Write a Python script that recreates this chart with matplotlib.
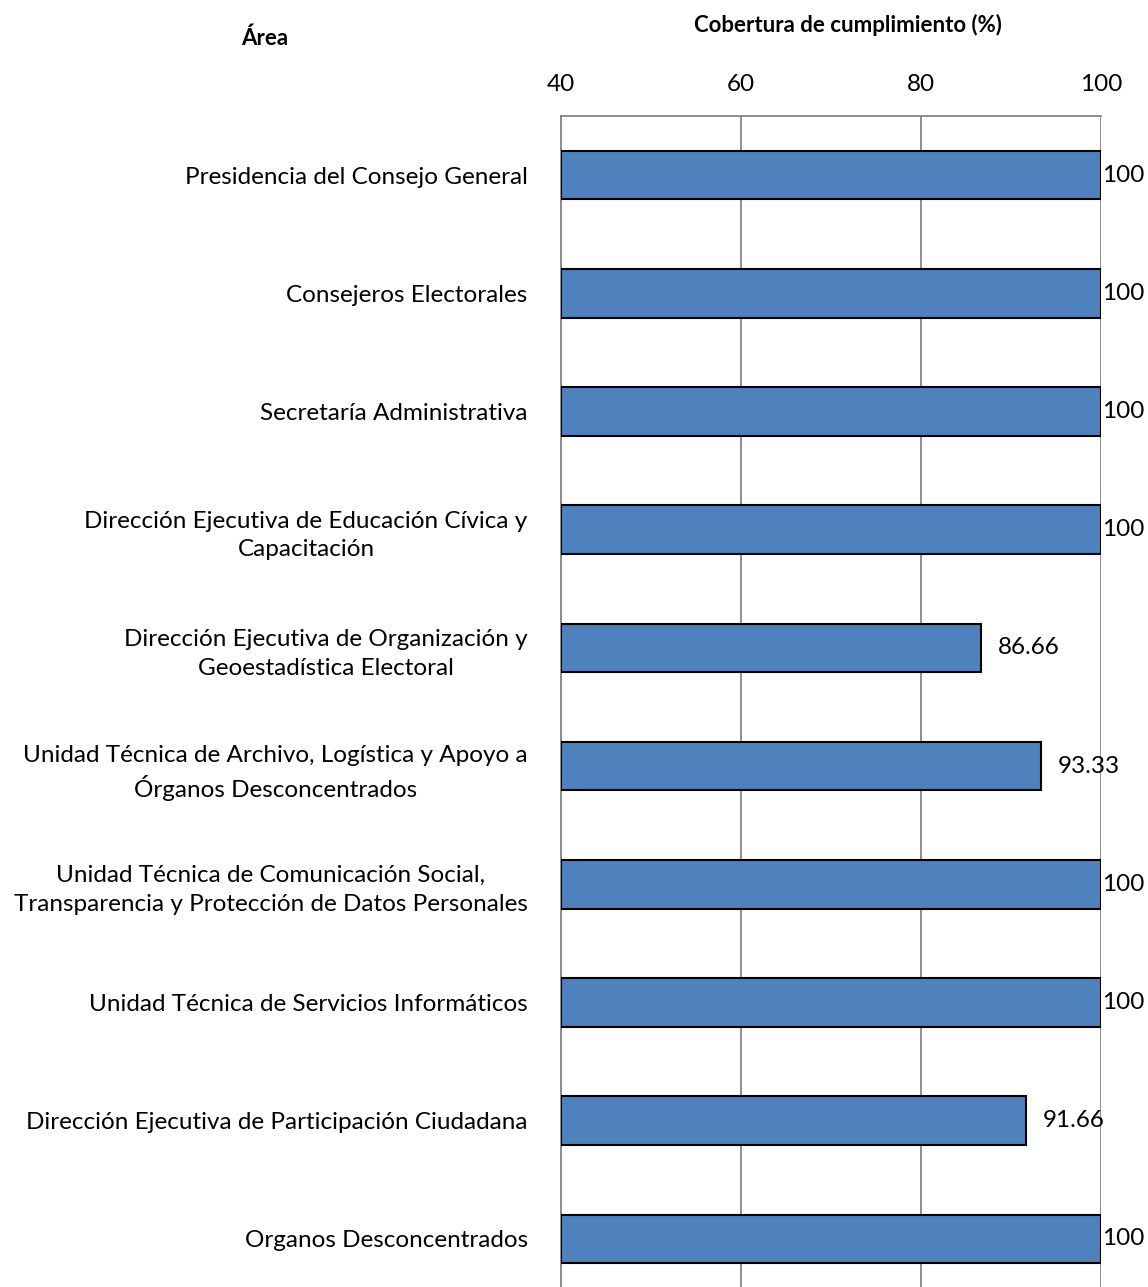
import numpy as np
import matplotlib
matplotlib.use("Agg")
import matplotlib.pyplot as plt

areas = [
    "Presidencia del Consejo General",
    "Consejeros Electorales",
    "Secretaría Administrativa",
    "Dirección Ejecutiva de Educación Cívica y\nCapacitación",
    "Dirección Ejecutiva de Organización y\nGeoestadística Electoral",
    "Unidad Técnica de Archivo, Logística y Apoyo a\nÓrganos Desconcentrados",
    "Unidad Técnica de Comunicación Social,\nTransparencia y Protección de Datos Personales",
    "Unidad Técnica de Servicios Informáticos",
    "Dirección Ejecutiva de Participación Ciudadana",
    "Organos Desconcentrados",
]
cobertura = [100, 100, 100, 100, 86.66, 93.33, 100, 100, 91.66, 100]
etiquetas = ["100", "100", "100", "100", "86.66", "93.33", "100", "100", "91.66", "100"]
x_ticks = [40, 60, 80, 100]

plt.rcParams["font.family"] = ["Lato", "DejaVu Sans"]

W, H = 1148, 1287
fig = plt.figure(figsize=(W / 100, H / 100), dpi=100)
# plot area runs past the bottom edge of the picture (cropped like the original)
ax = fig.add_axes([561 / W, 1 - 1298 / H, 540 / W, (1298 - 116) / H])

y = np.arange(len(areas))
ax.barh(y, [v - 40 for v in cobertura], left=40, height=0.41,
        color="#4F81BD", edgecolor="black", linewidth=1.5, zorder=3)

ax.set_xlim(40, 100)
ax.set_ylim(len(areas) - 0.5, -0.5)
ax.set_xticks(x_ticks)
ax.xaxis.tick_top()
ax.tick_params(axis="x", length=0, pad=15, labelsize=17.5)
ax.set_yticks(y)
ax.set_yticklabels(areas, fontsize=17.5, multialignment="center", linespacing=1.45)
ax.tick_params(axis="y", length=0, pad=24)
ax.grid(axis="x", color="#868686", linewidth=1.3, zorder=0)

for s in ["left", "top"]:
    ax.spines[s].set_color("#868686")
    ax.spines[s].set_linewidth(1.3)
for s in ["right", "bottom"]:
    ax.spines[s].set_visible(False)

for yi, v, t in zip(y, cobertura, etiquetas):
    off = 1 if v >= 100 else 12
    ax.annotate(t, (v, yi), xytext=(off, 0), textcoords="offset points",
                ha="left", va="center", fontsize=17.5, annotation_clip=False)

fig.text(265 / W, 1 - 38 / H, "Área", ha="center", va="center",
         fontsize=16, fontweight="bold")
fig.text(848 / W, 1 - 25 / H, "Cobertura de cumplimiento (%)", ha="center",
         va="center", fontsize=16, fontweight="bold")

fig.savefig("out.png", dpi=100)
